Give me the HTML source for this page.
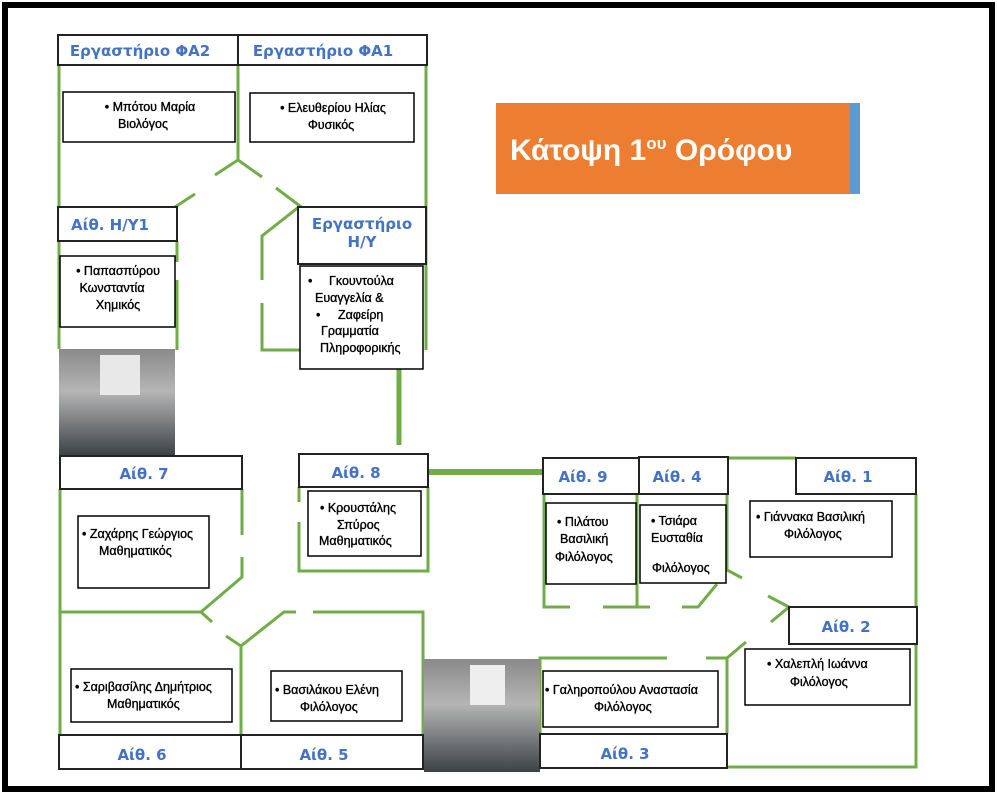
<!DOCTYPE html>
<html><head><meta charset="utf-8"><style>
html,body{margin:0;padding:0;background:#fff;}
svg{display:block;font-family:"Liberation Sans","DejaVu Sans",sans-serif;}
.h{fill:#4472C4;font-weight:bold;font-size:15px;font-family:"DejaVu Sans","Liberation Sans",sans-serif;}
.t{fill:#000;font-size:12.5px;stroke:#000;stroke-width:0.35;}
.bx{fill:#fff;stroke:#000;stroke-width:1.5;}
.hb{fill:#fff;stroke:#222;stroke-width:2;}
.g{stroke:#70AD47;stroke-width:3;fill:none;}
</style></head><body>
<svg width="997" height="796" viewBox="0 0 997 796">
<defs>
<linearGradient id="ph" x1="0" y1="0" x2="0" y2="1">
<stop offset="0" stop-color="#8a8a8a"/><stop offset="0.4" stop-color="#b5b5b5"/><stop offset="1" stop-color="#3d4245"/>
</linearGradient>
</defs>
<rect x="0" y="0" width="997" height="796" fill="#fff"/>
<rect x="5" y="5" width="987" height="784" fill="none" stroke="#000" stroke-width="6"/>

<g class="g">
<path d="M59 65V207M59 241V349"/>
<path d="M238 65V160M238 160L215 175M238 160L262 177"/>
<path d="M195 194L175 207M276 188L300 206L262 236V280M262 303V350H300"/>
<path d="M426 65V350"/>
<path d="M177 241V262M177 280V350"/>
<path d="M60 489V735M242 489V535M242 557V577L201 612H60M201 612L212 622"/>
<path d="M226 636L241 646V735M241 646L284 612H296M313 612H423V735"/>
<path d="M299 487V502M299 522V571H428V487"/>
<path d="M544 494V607H570M603 607H650M682 607H698L717 584M637 494V607"/>
<path d="M728 458H796M916 494V607M916 644V767H727M727 494V570L742 578"/>
<path d="M768 596L789 607L771 622M746 642L727 658V734"/>
<path d="M540 734V658H667M706 658H727"/>
</g>
<path d="M399 369V445" stroke="#70AD47" stroke-width="5"/>
<path d="M428 472H543" stroke="#70AD47" stroke-width="6"/>

<rect x="59" y="349" width="116" height="106" fill="url(#ph)"/>
<rect x="100" y="355" width="40" height="40" fill="#e8e8e8"/>
<rect x="424" y="659" width="116" height="113" fill="url(#ph)"/>
<rect x="470" y="665" width="35" height="40" fill="#eee"/>

<rect x="496" y="103" width="354" height="91" fill="#ED7D31"/>
<rect x="850" y="103" width="10" height="91" fill="#5B9BD5"/>
<text x="510" y="160" fill="#fff" font-size="30" font-weight="bold">Κάτοψη 1<tspan font-size="17" dy="-11">ου</tspan><tspan dy="11"> Ορόφου</tspan></text>

<rect class="hb" x="58" y="35" width="180" height="30"/><text class="h" x="140" y="56" text-anchor="middle">Εργαστήριο ΦΑ2</text>
<rect class="hb" x="238" y="35" width="189" height="30"/><text class="h" x="323" y="56" text-anchor="middle">Εργαστήριο ΦΑ1</text>
<rect class="hb" x="58" y="207" width="119" height="34"/><text class="h" x="110" y="230" text-anchor="middle">Αίθ.  Η/Υ1</text>
<rect class="hb" x="298" y="207" width="128" height="57"/><text class="h" x="362" y="229" text-anchor="middle">Εργαστήριο</text><text class="h" x="362" y="247" text-anchor="middle">Η/Υ</text>
<rect class="hb" x="60" y="456" width="182" height="33"/><text class="h" x="144" y="479" text-anchor="middle">Αίθ.  7</text>
<rect class="hb" x="299" y="454" width="129" height="33"/><text class="h" x="356" y="478" text-anchor="middle">Αίθ.  8</text>
<rect class="hb" x="543" y="458" width="96" height="36"/><text class="h" x="583" y="482" text-anchor="middle">Αίθ.  9</text>
<rect class="hb" x="639" y="457" width="89" height="37"/><text class="h" x="677" y="482" text-anchor="middle">Αίθ.  4</text>
<rect class="hb" x="796" y="458" width="120" height="36"/><text class="h" x="848" y="482" text-anchor="middle">Αίθ.  1</text>
<rect class="hb" x="789" y="607" width="128" height="37"/><text class="h" x="846" y="632" text-anchor="middle">Αίθ.  2</text>
<rect class="hb" x="59" y="735" width="182" height="34"/><text class="h" x="142" y="760" text-anchor="middle">Αίθ.  6</text>
<rect class="hb" x="241" y="735" width="182" height="34"/><text class="h" x="324" y="760" text-anchor="middle">Αίθ.  5</text>
<rect class="hb" x="540" y="734" width="187" height="34"/><text class="h" x="625" y="759" text-anchor="middle">Αίθ.  3</text>

<rect class="bx" x="63" y="92" width="172" height="50"/>
<text class="t" x="150" y="111" text-anchor="middle">• Μπότου Μαρία</text><text class="t" x="143" y="128" text-anchor="middle">Βιολόγος</text>
<rect class="bx" x="250" y="93" width="164" height="49"/>
<text class="t" x="333" y="112" text-anchor="middle">• Ελευθερίου Ηλίας</text><text class="t" x="331" y="129" text-anchor="middle">Φυσικός</text>
<rect class="bx" x="60" y="256" width="115" height="71"/>
<text class="t" x="118" y="275" text-anchor="middle">• Παπασπύρου</text><text class="t" x="112" y="292" text-anchor="middle">Κωνσταντία</text><text class="t" x="118" y="309" text-anchor="middle">Χημικός</text>
<rect class="bx" x="300" y="266" width="123" height="103"/>
<text class="t" x="308" y="285">•</text><text class="t" x="329" y="285">Γκουντούλα</text>
<text class="t" x="315" y="302">Ευαγγελία &amp;</text>
<text class="t" x="316" y="319">•</text><text class="t" x="338" y="319">Ζαφείρη</text>
<text class="t" x="321" y="335">Γραμματία</text>
<text class="t" x="320" y="352">Πληροφορικής</text>
<rect class="bx" x="78" y="516" width="131" height="72"/>
<text class="t" x="82" y="538">• Ζαχάρης Γεώργιος</text><text class="t" x="99" y="555">Μαθηματικός</text>
<rect class="bx" x="308" y="491" width="113" height="65"/>
<text class="t" x="320" y="512">• Κρουστάλης</text><text class="t" x="337" y="529">Σπύρος</text><text class="t" x="319" y="545">Μαθηματικός</text>
<rect class="bx" x="71" y="669" width="161" height="53"/>
<text class="t" x="75" y="691">• Σαριβασίλης Δημήτριος</text><text class="t" x="107" y="708">Μαθηματικός</text>
<rect class="bx" x="271" y="671" width="131" height="50"/>
<text class="t" x="275" y="694">• Βασιλάκου Ελένη</text><text class="t" x="300" y="711">Φιλόλογος</text>
<rect class="bx" x="546" y="503" width="90" height="81"/>
<text class="t" x="557" y="526">• Πιλάτου</text><text class="t" x="560" y="543">Βασιλική</text><text class="t" x="555" y="561">Φιλόλογος</text>
<rect class="bx" x="640" y="505" width="86" height="78"/>
<text class="t" x="651" y="525">• Τσιάρα</text><text class="t" x="651" y="542">Ευσταθία</text><text class="t" x="652" y="572">Φιλόλογος</text>
<rect class="bx" x="750" y="501" width="142" height="56"/>
<text class="t" x="756" y="521">• Γιάννακα Βασιλική</text><text class="t" x="784" y="538">Φιλόλογος</text>
<rect class="bx" x="745" y="649" width="165" height="56"/>
<text class="t" x="767" y="668">• Χαλεπλή Ιωάννα</text><text class="t" x="790" y="686">Φιλόλογος</text>
<rect class="bx" x="543" y="671" width="175" height="56"/>
<text class="t" x="545" y="694">• Γαληροπούλου Αναστασία</text><text class="t" x="594" y="711">Φιλόλογος</text>
</svg>
</body></html>
